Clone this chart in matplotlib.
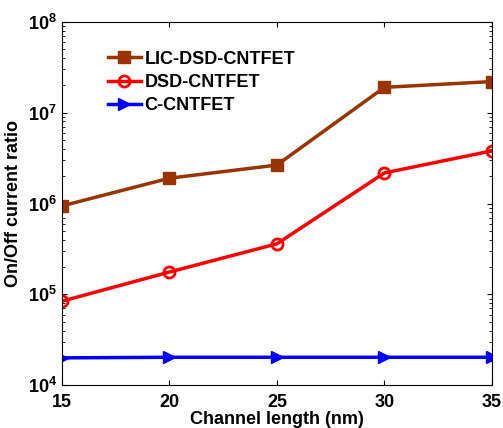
import numpy as np
import matplotlib.pyplot as plt

plt.rcParams['font.family'] = ['Liberation Sans', 'DejaVu Sans']
plt.rcParams['font.weight'] = 'bold'

length = [15, 20, 25, 30, 35]
lic_dsd = [9.4e5, 1.9e6, 2.65e6, 1.9e7, 2.2e7]
dsd = [8.4e4, 1.76e5, 3.6e5, 2.17e6, 3.8e6]
c_cnt = [2.0e4, 2.03e4, 2.03e4, 2.03e4, 2.03e4]

fig = plt.figure(figsize=(5.03, 4.28), dpi=100)
ax = fig.add_axes([0.123, 0.1, 0.855, 0.849])

ax.semilogy(length, lic_dsd, 's-', color='#993300', lw=2.5, ms=8, label='LIC-DSD-CNTFET')
ax.semilogy(length, dsd, 'o-', color='red', lw=2.5, ms=8, mfc='none', mew=2, label='DSD-CNTFET')
ax.semilogy(length, c_cnt, '>-', color='blue', lw=2.5, ms=9, label='C-CNTFET')

ax.set_xlim(15, 35)
ax.set_ylim(1e4, 1e8)
ax.set_xticks([15, 20, 25, 30, 35])
ax.tick_params(which='both', direction='in', top=True, right=True, labelsize=13)
ax.tick_params(axis='x', pad=6)
ax.set_xlabel('Channel length (nm)', fontsize=13, fontweight='bold', labelpad=0)
ax.set_ylabel('On/Off current ratio', fontsize=13, fontweight='bold')

leg = ax.legend(loc='upper left', bbox_to_anchor=(0.07, 0.965), frameon=False,
                fontsize=13, handlelength=1.8, handletextpad=0.2, labelspacing=0.35)
for t in leg.get_texts():
    t.set_fontweight('bold')

fig.savefig('out.png', dpi=100)
